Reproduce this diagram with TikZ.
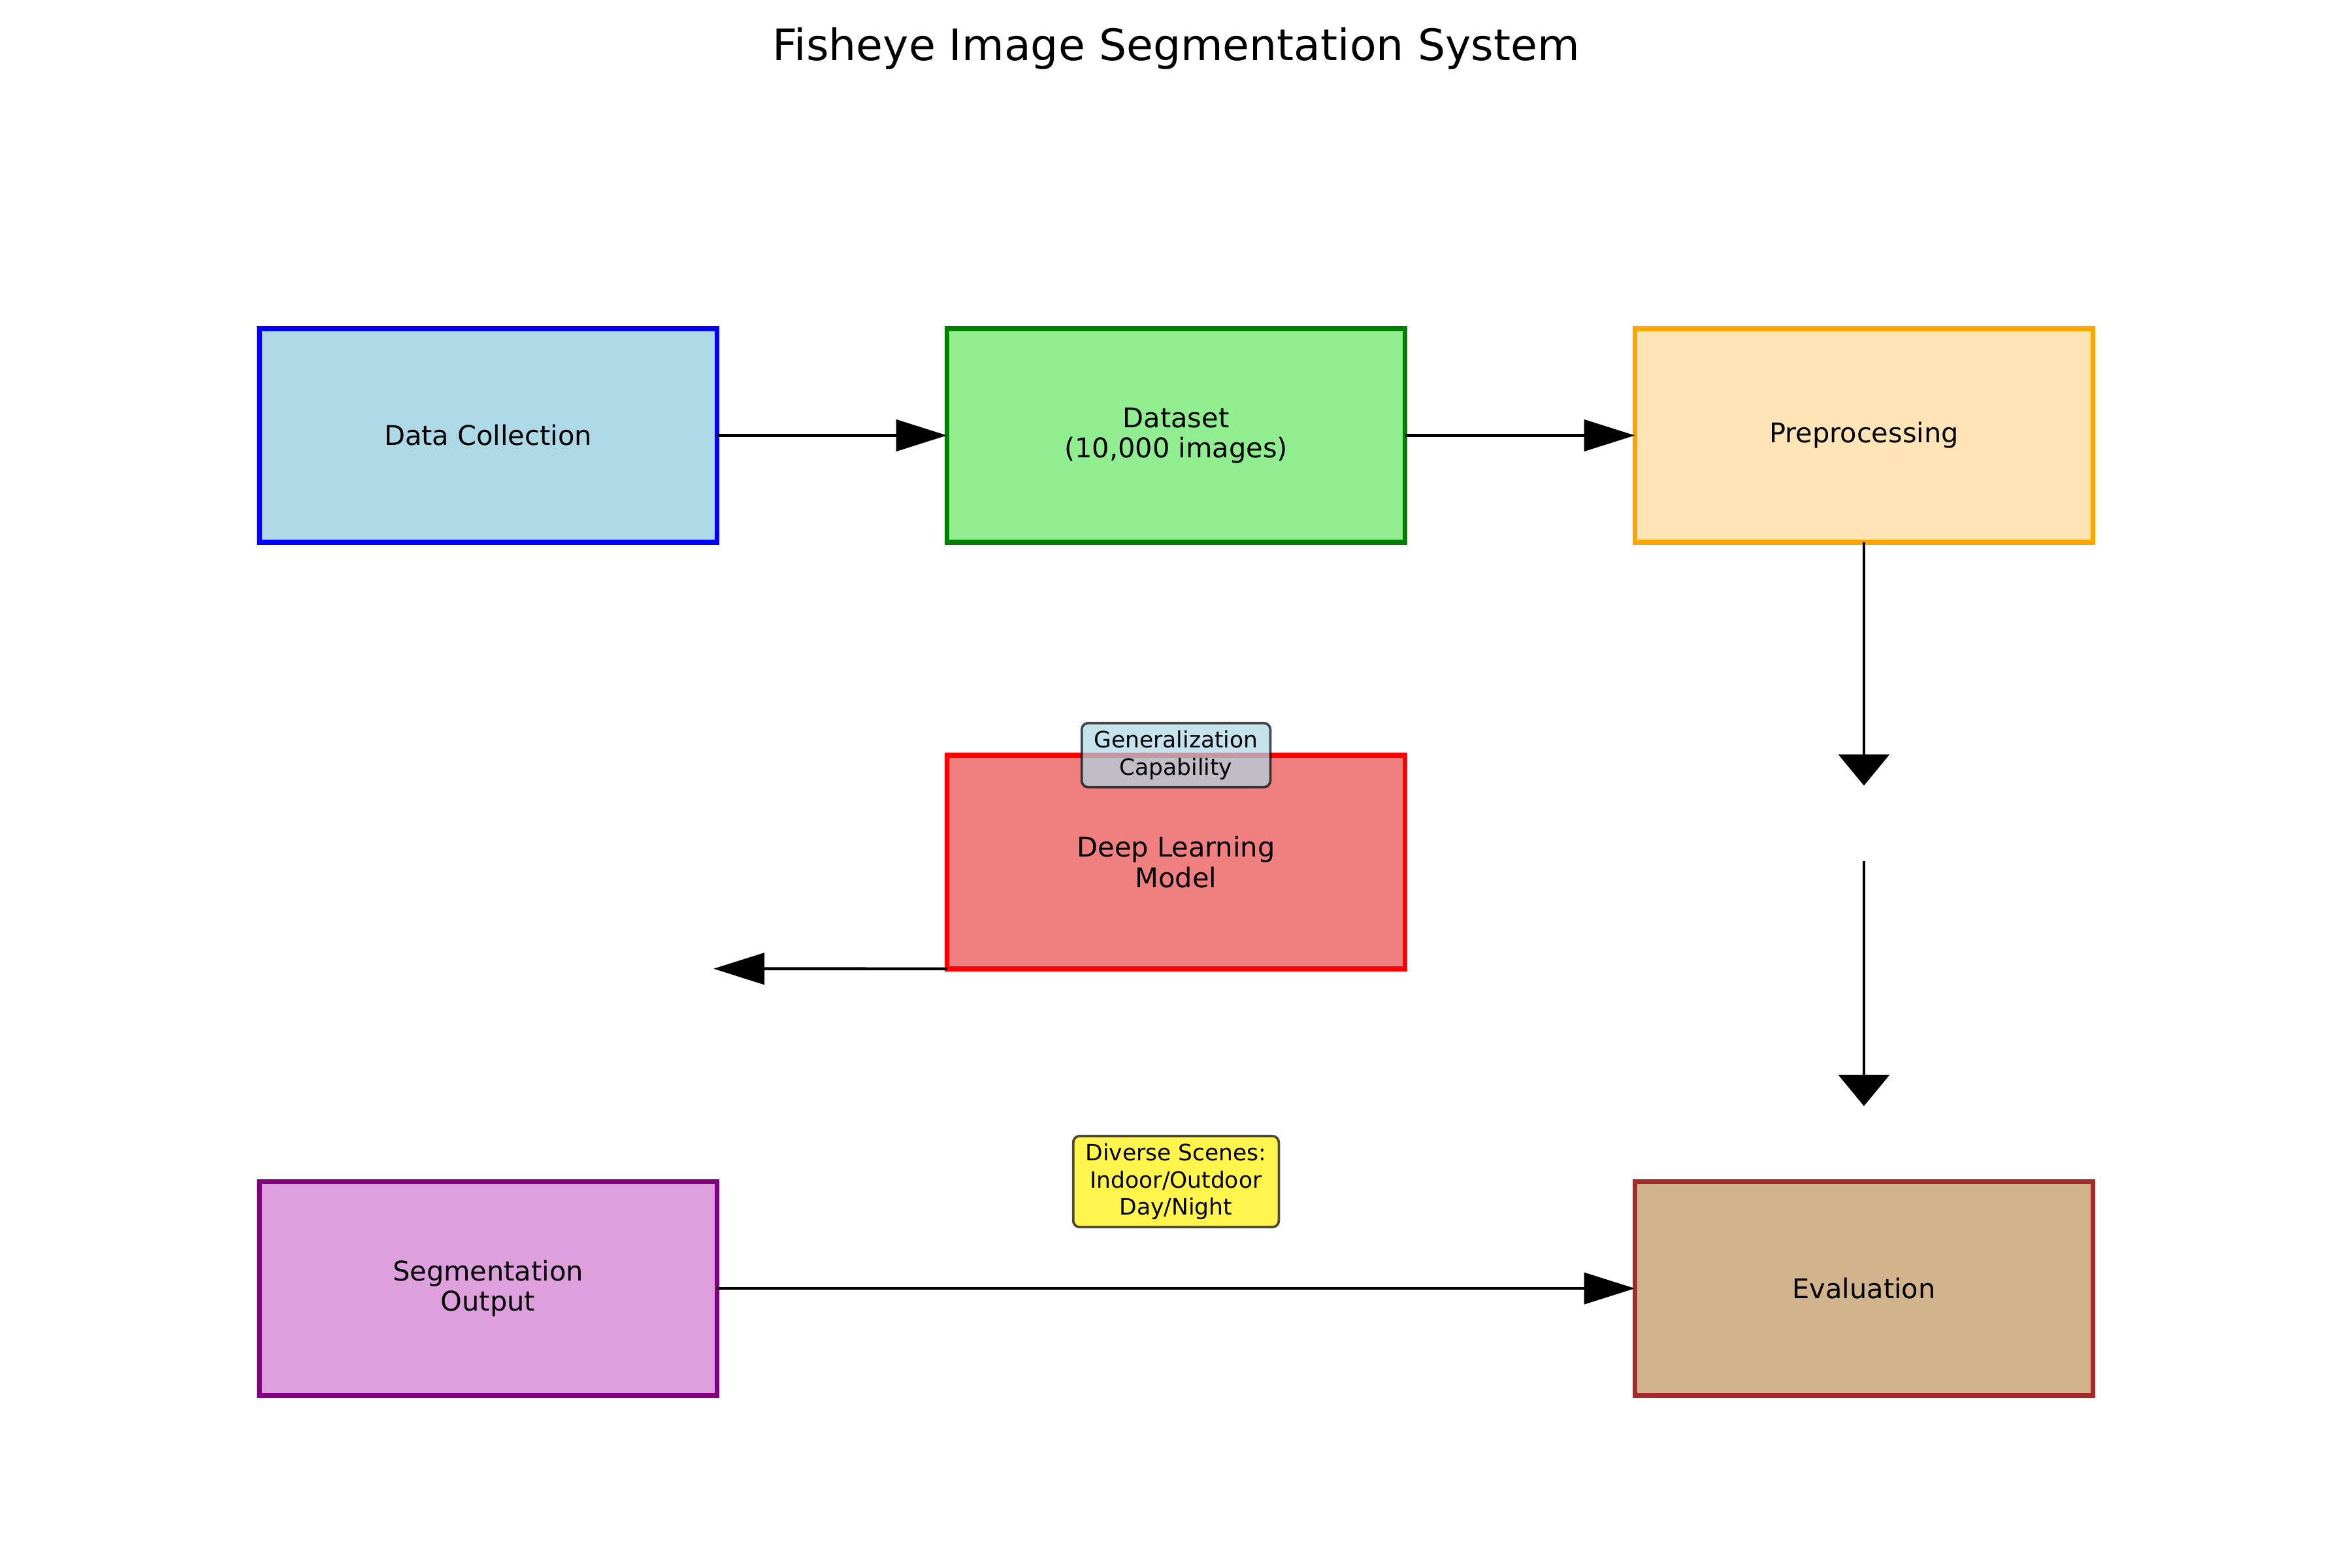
\documentclass[tikz,border=0pt]{standalone}
\usepackage{fontspec}
\setmainfont{DejaVu Sans}
\usetikzlibrary{arrows.meta}
\definecolor{lblue}{HTML}{ADD8E6}
\definecolor{lgreen}{HTML}{90EE90}
\definecolor{dgreen}{HTML}{008000}
\definecolor{moccasin}{HTML}{FFE4B5}
\definecolor{orng}{HTML}{FFA500}
\definecolor{lcoral}{HTML}{F08080}
\definecolor{plum}{HTML}{DDA0DD}
\definecolor{dpurple}{HTML}{800080}
\definecolor{tan}{HTML}{D2B48C}
\definecolor{dbrown}{HTML}{A52A2A}
\begin{document}
\begin{tikzpicture}[
        stage/.style={draw, line width=1.9pt, minimum width=5.935cm, minimum height=2.769cm, outer sep=0pt, align=center, font=\fontsize{10}{11.2}\selectfont},
        note/.style={draw=black, draw opacity=0.7, line width=0.9pt, rounded corners=2.4pt, fill opacity=0.7, text opacity=1, inner xsep=4.6pt, inner ysep=2.8pt, align=center, font=\fontsize{8.3}{10}\selectfont},
        harrow/.style={-{Triangle[length=0.66cm,width=0.406cm]}, line width=1.1pt},
        varrow/.style={-{Triangle[length=0.406cm,width=0.66cm]}, line width=1.1pt}]
            \path[use as bounding box, fill=white] (0,0) rectangle (30.48,20.32);

            \node[anchor=base, font=\fontsize{16}{19}\selectfont] (title) at (15.24,19.535) {Fisheye Image Segmentation System};

            \node[stage, fill=lblue, draw=blue] (collect) at (6.325,14.677) {Data Collection};
            \node[stage, fill=lgreen, draw=dgreen] (dataset) at (15.24,14.677) {Dataset\\(10,000 images)};
            \node[stage, fill=moccasin, draw=orng] (prep) at (24.155,14.677) {Preprocessing};
            \node[stage, fill=lcoral, draw=red] (model) at (15.24,9.15) {Deep Learning\\Model};
            \node[stage, fill=plum, draw=dpurple] (output) at (6.325,3.623) {Segmentation\\Output};
            \node[stage, fill=tan, draw=dbrown] (eval) at (24.155,3.623) {Evaluation};

            \coordinate (prepend) at (24.155,10.139);
            \coordinate (evalstart) at (24.155,9.165);
            \coordinate (evalend) at (24.155,5.986);
            \coordinate (modelend) at (9.246,7.766);

            \draw[harrow] (collect) to (dataset); \draw[harrow] (dataset) to (prep);
            \draw[varrow] (prep) to (prepend); \draw[varrow] (evalstart) to (evalend);
            \draw[harrow] (model.south west) to (modelend); \draw[harrow] (output) to (eval);

            \node[note, fill=lblue] (general) at (model.north) {Generalization\\Capability};
            \node[note, fill=yellow] (scenes) at (model |- output.north) {Diverse Scenes:\\Indoor/Outdoor\\Day/Night};
        \end{tikzpicture}
\end{document}
